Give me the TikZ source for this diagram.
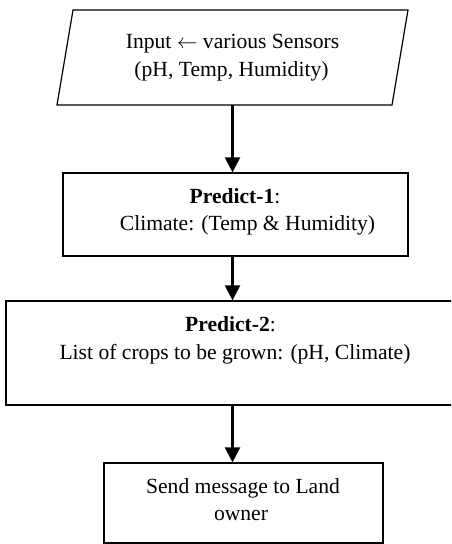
\documentclass[tikz,border=0pt]{standalone}
\usepackage{fontspec}
\setmainfont{Liberation Serif}
\usetikzlibrary{arrows.meta}
\begin{document}
\begin{tikzpicture}[x=1pt,y=-1pt,
  boxnode/.style={draw=black,line width=1.2pt,inner sep=0pt,minimum width=#1},
  hold/.style={inner sep=0pt,outer sep=0pt},
  lbl/.style={anchor=base,inner sep=0pt,font=\fontsize{21.6}{28}\selectfont},
  flow/.style={line width=2.2pt,-{Triangle[length=15pt,width=15pt]}}]
\clip (0,0) rectangle (451,544);
\fill[white] (0,0) rectangle (451,544);
% input parallelogram (holder node plus outline)
\node[hold,minimum width=335pt,minimum height=95pt] (inp) at (232.5,57.5) {};
\draw[line width=1.2pt] ([xshift=8pt]inp.north west) -- ([xshift=8pt]inp.north east)
  -- ([xshift=-8pt]inp.south east) -- ([xshift=-8pt]inp.south west) -- cycle;
% boxes
\node[boxnode=345pt,minimum height=83pt] (b1) at (235.5,214.5) {};
\node[boxnode=459pt,minimum height=104pt] (b2) at (235.5,353) {};
\node[boxnode=279pt,minimum height=80pt] (b3) at (243.5,503) {};
% texts
\node[lbl] (t1) at (232.5,48.3) {Input $\leftarrow$ various Sensors};
\node[lbl] (t2) at (231.5,76.7) {(pH, Temp, Humidity)};
\node[lbl] (t3) at (235,203.3) {\textbf{Predict-1}:};
\node[lbl] (t4) at (247.5,230) {Climate: (Temp \& Humidity)};
\node[lbl] (t5) at (230.5,331.7) {\textbf{Predict-2}:};
\node[lbl] (t6) at (235,359) {List of crops to be grown: (pH, Climate)};
\node[lbl] (t7) at (243,493) {Send message to Land};
\node[lbl] (t8) at (241,520) {owner};
% connectors
\draw[flow] (inp.south) -- (inp.south |- b1.north);
\draw[flow] (b1.south -| inp.south) -- (inp.south |- b2.north);
\draw[flow] (b2.south -| inp.south) -- (inp.south |- b3.north);
\end{tikzpicture}
\end{document}
